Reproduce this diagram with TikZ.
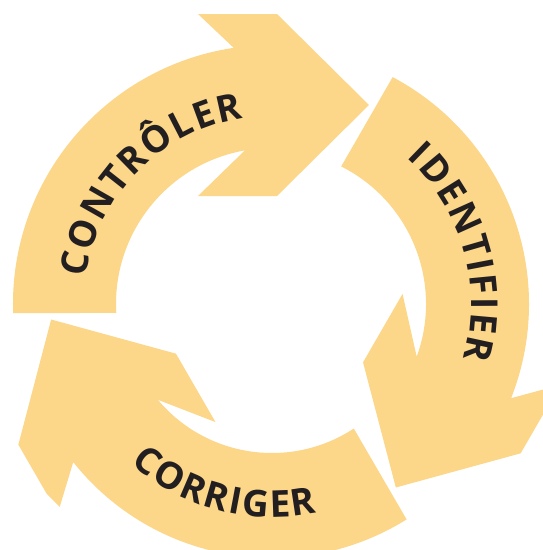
\documentclass[tikz,border=0pt]{standalone}
\usepackage{fontspec}
\newfontfamily\lblfont{Open Sans}
\usetikzlibrary{decorations.text}

\definecolor{arrowfill}{RGB}{252,214,137}
\definecolor{lbltext}{RGB}{35,31,32}

\tikzset{
  cyclearrow/.style={fill=arrowfill, draw=none},
  lbl/.style={decorate, decoration={text along path, text align=center, text color=lbltext,
    text={|\lblfont\bfseries\fontsize{37}{37}\selectfont\kern2pt|#1}}}
}

\begin{document}
\begin{tikzpicture}[x=1pt, y=1pt]
    \useasboundingbox (-272,-246) rectangle (271,304);
    \clip (-272,304) -- (271,304) -- (271,-246) -- (-169,-246) -- (-272,-143) -- cycle;
    % three arrows, turned by 120 degrees
    \foreach \rot/\ro/\ri in {0/259/156, -120/257/154, -240/254/149}
      \fill[cyclearrow, rotate=\rot] (182:\ro) arc[start angle=182, end angle=98.5, radius=\ro]
        -- (-74,290) -- (5,290) -- (97,199) -- (5,108) -- (-74,108)
        -- (100:\ri) arc[start angle=100, end angle=183.3, radius=\ri] -- cycle;
    % labels along the arcs
    \path[lbl=CONTRÔLER] (180.6:188) arc[start angle=180.6, end angle=90.6, radius=188];
    \path[lbl=IDENTIFIER] (61:199) arc[start angle=61, end angle=-29, radius=199];
    \path[lbl=CORRIGER] (-150:213) arc[start angle=-150, end angle=-60, radius=213];
\end{tikzpicture}
\end{document}
